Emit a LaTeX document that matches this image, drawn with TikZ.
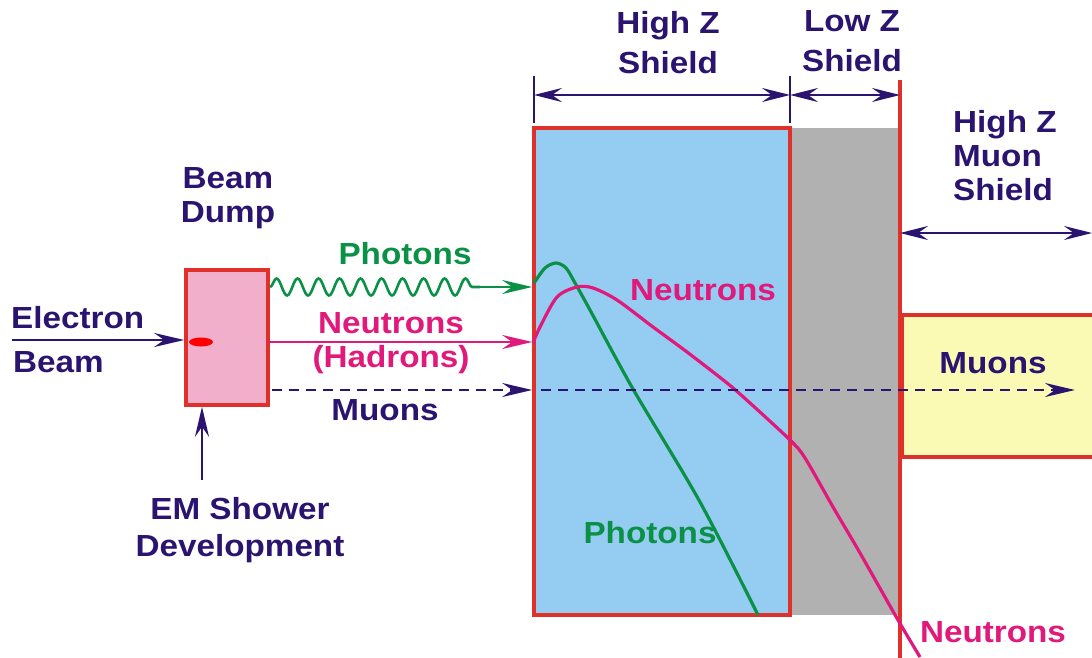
\documentclass[tikz,border=0pt]{standalone}
\usepackage{fontspec}
\setmainfont{Liberation Sans}[FakeStretch=1.09]
\usetikzlibrary{arrows.meta,decorations.pathmorphing}
\definecolor{navy}{HTML}{2A1470}
\definecolor{grn}{HTML}{0A9146}
\definecolor{pnk}{HTML}{E0197A}
\definecolor{redb}{HTML}{E0302A}
\definecolor{dumpfill}{HTML}{F2AFCC}
\definecolor{bluefill}{HTML}{95CCF2}
\definecolor{grayfill}{HTML}{B1B1B1}
\definecolor{yelfill}{HTML}{FAFAB4}
\begin{document}
\begin{tikzpicture}[x=1pt,y=-1pt,
  lbl/.style={font=\fontsize{30.5}{34}\selectfont\bfseries, align=center, inner sep=0pt, text=navy},
  box/.style={draw=redb, line width=3.6pt, inner sep=0pt},
  arr/.style={line width=2.8pt, -{Stealth[length=30pt,width=14pt,inset=10pt]}},
  dim/.style={navy, line width=2.4pt, {Stealth[length=28pt,width=14pt,inset=10pt]}-{Stealth[length=28pt,width=14pt,inset=10pt]}},
  tick/.style={navy, line width=2pt},
  dsh/.style={dash pattern=on 10pt off 7pt}]
\useasboundingbox (0,0) rectangle (1092,658);

% fills
\fill[grayfill] (790,128) rectangle (898,615);
\node[box, fill=bluefill, minimum width=256pt, minimum height=487pt] (hz) at (662,371.5) {};
\node[box, fill=yelfill, minimum width=200pt, minimum height=142pt, anchor=north west] (mu) at (900,313) {};
\draw[redb, line width=3.6pt] (900,80) coordinate (rtop) -- (900,658) coordinate (rbot);
\node[box, fill=dumpfill, minimum width=82pt, minimum height=135pt] (dump) at (227,337.5) {};
\fill[red] (201,342) ellipse (12 and 4.5);

% curves
\draw[grn, line width=3.2pt, line join=round] plot[smooth, tension=0.5] coordinates {(534,283) (545,268) (556,263) (566,268) (575,283) (590,310) (633,389) (700,502) (758,615)};
\draw[pnk, line width=3.2pt, line join=round] plot[smooth, tension=0.5] coordinates {(533,343) (540,327) (557,297) (577,287) (593,288) (617,300) (653,327) (687,352) (727,383) (750,403) (790,440) (805,458) (833,507) (860,553) (898,620) (920,657)};

% incoming beams
\coordinate (eb) at (12,340);
\draw[navy, arr] (eb) -- (dump.west |- eb);
\coordinate (em) at (202,480);
\draw[navy, arr] (em) -- (dump.south -| em);

\coordinate (ph0) at (270,287);
\coordinate (ph1) at (480,287);
\draw[grn, line width=2.6pt, decorate, decoration={snake, segment length=21pt, amplitude=8.5pt}] (ph0) -- (ph1);
\draw[grn, arr] (ph1) -- (hz.west |- ph1);

\coordinate (ne0) at (268,342);
\draw[pnk, arr] (ne0) -- (hz.west |- ne0);

\coordinate (mu0) at (272,390);
\draw[navy, arr, dsh] (mu0) -- (hz.west |- mu0);
\coordinate (mu1) at (1075,390);
\coordinate (mu2) at (541,390);
\draw[navy, arr, dsh] (mu2) -- (mu1);

% dimension marks
\coordinate (t1a) at (534,76); \coordinate (t1b) at (534,123);
\coordinate (t2a) at (790,76); \coordinate (t2b) at (790,123);
\draw[tick] (t1a) -- (t1b);
\draw[tick] (t2a) -- (t2b);
\draw[dim] (t1a |- 0,95) -- (t2a |- 0,95);
\draw[dim] (t2a |- 0,95) -- (rtop |- 0,95);
\draw[dim] (rtop |- 0,233) -- (1092,233);

% labels
\node[lbl] (ebl1) [anchor=west] at (11,318) {Electron};
\node[lbl] (ebl2) [anchor=west] at (13,362) {Beam};
\node[lbl] (bdl) at (228,198) {Beam\\Dump};
\node[lbl, font=\fontsize{30.5}{37}\selectfont\bfseries] (eml) at (240,530) {EM Shower\\Development};
\node[lbl, text=grn] (phl) at (405,254) {Photons};
\node[lbl, text=pnk] (nel) at (391,343) {Neutrons\\(Hadrons)};
\node[lbl] (mul) at (385,410) {Muons};
\node[lbl, font=\fontsize{30.5}{40}\selectfont\bfseries] (hzl) at (668,43) {High Z\\Shield};
\node[lbl, font=\fontsize{30.5}{40}\selectfont\bfseries] (lzl) at (852,41) {Low Z\\Shield};
\node[lbl, align=left, anchor=west] (hml) at (953,156) {High Z\\Muon\\Shield};
\node[lbl, text=pnk] (nin) at (703,290) {Neutrons};
\node[lbl, text=grn] (pin) at (650,533) {Photons};
\node[lbl] (min) at (993,363) {Muons};
\node[lbl, text=pnk] (nout) at (993,632) {Neutrons};
\end{tikzpicture}
\end{document}
